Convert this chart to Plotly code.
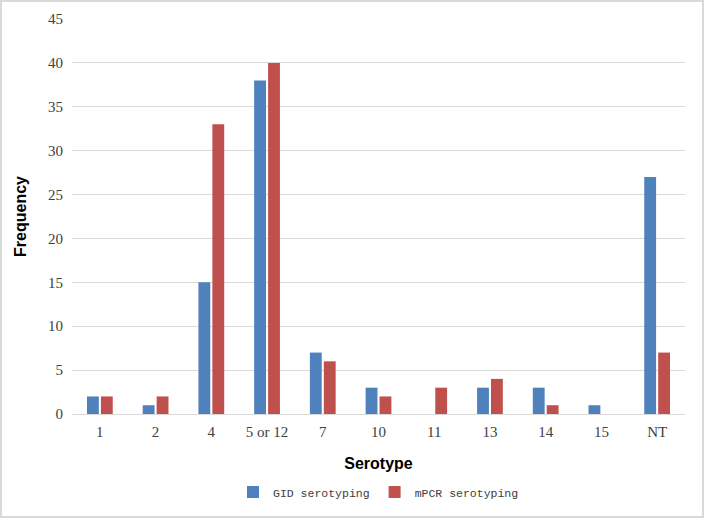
import plotly.graph_objects as go

serotypes = ["1", "2", "4", "5 or 12", "7", "10", "11", "13", "14", "15", "NT"]
gid_values = [2, 1, 15, 38, 7, 3, 0, 3, 3, 1, 27]
mpcr_values = [2, 2, 33, 40, 6, 2, 3, 4, 1, 0, 7]
y_ticks = [0, 5, 10, 15, 20, 25, 30, 35, 40, 45]

W, H = 704, 518
ml, mr, mt, mb = 72, 19, 19, 104
pw, ph = W - ml - mr, H - mt - mb

fig = go.Figure()
fig.add_trace(go.Bar(x=serotypes, y=gid_values, name="GID serotyping", marker=dict(color="#4F81BD", line=dict(width=0))))
fig.add_trace(go.Bar(x=serotypes, y=mpcr_values, name="mPCR serotyping", marker=dict(color="#C0504D", line=dict(width=0))))

fig.update_layout(
    width=W, height=H,
    margin=dict(l=ml, r=mr, t=mt, b=mb),
    paper_bgcolor="white", plot_bgcolor="white",
    barmode="group", bargap=0.5, bargroupgap=0.15,
    xaxis=dict(
        title=dict(text="Serotype", font=dict(family="Liberation Sans", size=16, color="black", weight="bold"), standoff=18),
        tickfont=dict(family="Liberation Serif", size=15, color="#404040"),
        showgrid=False, showline=True, linecolor="#d9d9d9", linewidth=1, ticks="",
        ticklabelstandoff=4,
    ),
    yaxis=dict(
        title=dict(text="Frequency", font=dict(family="Liberation Sans", size=16, color="black", weight="bold"), standoff=17),
        tickfont=dict(family="Liberation Serif", size=15, color="#404040"),
        range=[0, 45], tickvals=y_ticks,
        showgrid=True, gridcolor="#d9d9d9", gridwidth=1, zeroline=False, ticks="",
        ticklabelstandoff=8,
    ),
    legend=dict(
        orientation="h", x=0.5, xanchor="center", y=(414 - 492) / ph, yanchor="middle",
        font=dict(family="Liberation Mono", size=11.5, color="#404040"),
        itemwidth=30, traceorder="normal",
    ),
    shapes=[dict(
        type="rect", xref="paper", yref="paper",
        x0=(1 - ml) / pw, x1=(703 - ml) / pw,
        y0=(414 - 517) / ph, y1=(414 - 1) / ph,
        line=dict(color="#d9d9d9", width=2), fillcolor="rgba(0,0,0,0)", layer="below",
    )],
)

fig.write_html("out.html", config={"displayModeBar": False},
               post_script="document.body.style.margin='0';")
